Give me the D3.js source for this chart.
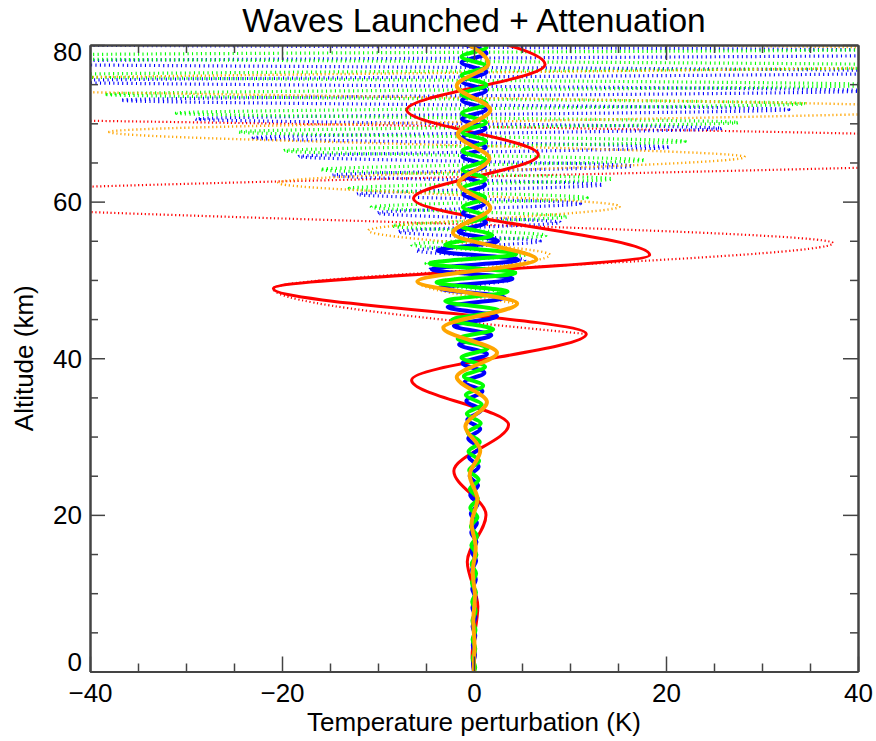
<!DOCTYPE html>
<html>
<head>
<meta charset="utf-8">
<script src="https://cdn.jsdelivr.net/npm/d3@7"></script>
<style>
  body { margin: 0; background: #fff; }
  svg text { font-family: "Liberation Sans", Arial, Helvetica, sans-serif; fill: #000; }
</style>
</head>
<body>
<svg id="chart" width="876" height="741"></svg>
<script>
// ---- Wave profiles: extrema of temperature perturbation (K) versus altitude (km) ----

// Long-period wave (red), attenuated profile
const redKm = [0.0, 1.9, 8.3, 14.0, 20.0, 25.6, 31.5, 37.2, 43.1, 48.9, 53.2, 60.4, 66.0, 71.7, 77.5, 83.0];
const redK  = [0.0, -0.2, 0.4, -0.7, 1.25, -2.1, 3.6, -6.5, 11.7, -20.9, 18.3, -6.3, 6.7, -7.0, 7.4, -7.5];
// Red wave without attenuation
const redFreeKm = [43.1, 48.9, 54.7, 60.4, 66.6, 71.6];
const redFreeK  = [11.7, -20.9, 37.4, -62, 85, -115];

// Medium wave (orange), attenuated profile
const orangeKm = [0.0, 0.3, 3.4, 6.5, 9.6, 12.7, 15.8, 18.9, 22.0, 25.1, 28.2, 31.3, 34.4, 37.6, 40.7, 43.9,
                  47.0, 49.8, 52.6, 56.0, 59.2, 62.3, 65.5, 68.6, 71.7, 74.8, 77.6, 80.7];
const orangeK  = [0.0, -0.02, 0.05, -0.07, 0.1, -0.13, 0.18, -0.25, 0.35, -0.45, 0.65, -0.9, 1.35, -1.8, 2.4, -3.2,
                  4.5, -5.9, 6.5, -2.2, 1.7, -1.6, 1.6, -1.7, 1.7, -1.8, 1.5, -1.5];
// Orange wave without attenuation
const orangeFreeKm = [47.0, 49.8, 53.2, 56.3, 59.4, 62.4, 65.7, 68.9, 71.8, 75.0, 78.3, 81.5];
const orangeFreeK  = [4.5, -5.9, 7.9, -11, 15.2, -20.4, 28.2, -38, 52, -70, 95, -125];

// Short wave (green), attenuated profile
const greenKm = [0.0, 0.5, 1.7, 2.9, 4.1, 5.3, 6.5, 7.7, 8.9, 10.1, 11.3, 12.5, 13.7, 14.9, 16.1, 17.3, 18.5, 19.7,
                 20.9, 22.1, 23.3, 24.5, 25.7, 26.9, 28.1, 29.3, 30.5, 31.7, 32.9, 34.1, 35.3, 36.5, 37.7, 38.9,
                 40.1, 41.3, 42.5, 43.7, 44.9, 46.1, 47.3, 48.5, 49.7, 50.9, 52.1, 53.3, 54.5, 55.7, 56.9, 58.1,
                 59.3, 60.5, 61.7, 62.9, 64.1, 65.3, 66.5, 67.7, 68.9, 70.1, 71.3, 72.5, 73.7, 74.9, 76.1, 77.3,
                 78.5, 79.7, 80.9];
const greenK  = [0.0, 0.12, -0.12, 0.13, -0.14, 0.15, -0.16, 0.17, -0.18, 0.2, -0.21, 0.22, -0.24, 0.25, -0.27, 0.3, -0.32, 0.35,
                 -0.38, 0.4, -0.43, 0.47, -0.5, 0.53, -0.57, 0.6, -0.65, 0.7, -0.75, 0.8, -0.85, 0.95, -1.05, 1.15,
                 -1.3, 1.45, -1.7, 2.0, -2.3, 2.6, -3.0, 3.5, -3.9, 4.3, -4.6, 4.4, -3.0, 1.9, -1.35, 1.2,
                 -1.15, 1.15, -1.15, 1.2, -1.2, 1.2, -1.2, 1.25, -1.25, 1.25, -1.25, 1.3, -1.3, 1.3, -1.3, 1.3,
                 -1.3, 1.3, -1.3];
// Green wave without attenuation
const greenFreeKm = [48.5, 49.7, 50.9, 52.1, 53.3, 54.5, 55.7, 56.9, 58.1, 59.3, 60.5, 61.7, 62.9, 64.1, 65.3,
                     66.5, 67.7, 68.9, 70.1, 71.3, 72.5, 73.7, 74.9, 76.1, 77.3, 78.5, 79.7, 80.9];
const greenFreeK  = [3.5, -3.9, 4.4, -5.0, 5.7, -6.5, 7.5, -8.5, 9.7, -10.7, 11.8, -13, 14.4, -16, 17.8,
                     -19.8, 22, -24.5, 27.5, -31, 34.5, -38.5, 43, -48, 54, -60, 67, -75];

// Short wave (blue), attenuated profile
const blueKm = [0.0, 0.95, 2.15, 3.35, 4.55, 5.75, 6.95, 8.15, 9.35, 10.55, 11.75, 12.95, 14.15, 15.35, 16.55, 17.75,
                18.95, 20.15, 21.35, 22.55, 23.75, 24.95, 26.15, 27.35, 28.55, 29.75, 30.95, 32.15, 33.35, 34.55,
                35.75, 36.95, 38.15, 39.35, 40.55, 41.75, 42.95, 44.15, 45.35, 46.55, 47.75, 48.95, 50.15, 51.35,
                52.55, 53.75, 54.95, 56.15, 57.35, 58.55, 59.75, 60.95, 62.15, 63.35, 64.55, 65.75, 66.95, 68.15,
                69.35, 70.55, 71.75, 72.95, 74.15, 75.35, 76.55, 77.75, 78.95, 80.15];
const blueK  = [0.0, -0.1, 0.11, -0.12, 0.13, -0.14, 0.15, -0.16, 0.17, -0.18, 0.19, -0.2, 0.22, -0.24, 0.26, -0.28,
                0.3, -0.33, 0.36, -0.39, 0.42, -0.45, 0.48, -0.52, 0.56, -0.6, 0.65, -0.7, 0.75, -0.8,
                0.88, -0.97, 1.08, -1.2, 1.35, -1.55, 1.8, -2.1, 2.4, -2.75, 3.2, -3.6, 4.0, -4.4,
                4.6, -3.8, 2.5, -1.6, 1.25, -1.15, 1.1, -1.1, 1.15, -1.15, 1.15, -1.2, 1.2, -1.2,
                1.2, -1.25, 1.25, -1.25, 1.25, -1.25, 1.3, -1.3, 1.3, -1.3];
// Blue wave without attenuation
const blueFreeKm = [48.95, 50.15, 51.35, 52.55, 53.75, 54.95, 56.15, 57.35, 58.55, 59.75, 60.95, 62.15, 63.35,
                    64.55, 65.75, 66.95, 68.15, 69.35, 70.55, 71.75, 72.95, 74.15, 75.35, 76.55, 77.75, 78.95, 80.15];
const blueFreeK  = [-3.6, 4.0, -4.6, 5.3, -6.0, 6.9, -7.9, 9.0, -10.1, 11.1, -12.2, 13.4, -14.8,
                    16.5, -18.3, 20.4, -23, 25.8, -29, 32.8, -36.8, 41, -46, 51.5, -57.5, 64, -71];

// Axis ticks
const xMajorTicks = [-40, -20, 0, 20, 40];
const xMinorTicks = [-35, -30, -25, -15, -10, -5, 5, 10, 15, 25, 30, 35];
const yMajorTicks = [0, 20, 40, 60, 80];
const yMinorTicks = [5, 10, 15, 25, 30, 35, 45, 50, 55, 65, 70, 75];

const titleText = "Waves Launched + Attenuation";
const xTitle = "Temperature perturbation (K)";
const yTitle = "Altitude (km)";

// ---- Layout ----
const plotL = 90, plotR = 858, plotT = 45, plotB = 671.5;
const svg = d3.select("#chart");

const x = d3.scaleLinear().domain([-40, 40]).range([plotL, plotR]);
const y = d3.scaleLinear().domain([0, 80]).range([plotB, plotT]);

svg.append("defs").append("clipPath").attr("id", "plotClip")
  .append("rect").attr("x", plotL).attr("y", plotT)
  .attr("width", plotR - plotL).attr("height", plotB - plotT);

const pairs = (km, k) => km.map((z, i) => [z, k[i]]);
const profile = d3.line()
  .x(d => x(d[1]))
  .y(d => y(d[0]))
  .curve(d3.curveMonotoneY);

const plot = svg.append("g").attr("clip-path", "url(#plotClip)");

// Unattenuated waves: dotted
const dotted = [
  { km: redFreeKm,    k: redFreeK,    color: "#ff0000", w: 2.2, dash: "1.2 2.6" },
  { km: blueFreeKm,   k: blueFreeK,   color: "#0000ff", w: 3.2, dash: "1.1 3.4" },
  { km: greenFreeKm,  k: greenFreeK,  color: "#00ff00", w: 3.2, dash: "1.1 3.4" },
  { km: orangeFreeKm, k: orangeFreeK, color: "#ffa500", w: 2.4, dash: "1.2 2.8" }
];
dotted.forEach(s => {
  plot.append("path")
    .datum(pairs(s.km, s.k))
    .attr("d", profile)
    .attr("fill", "none")
    .attr("stroke", s.color)
    .attr("stroke-width", s.w)
    .attr("stroke-dasharray", s.dash);
});

// Attenuated waves: solid
const solid = [
  { km: redKm,    k: redK,    color: "#ff0000", w: 3 },
  { km: blueKm,   k: blueK,   color: "#0000ff", w: 4 },
  { km: greenKm,  k: greenK,  color: "#00ff00", w: 4 },
  { km: orangeKm, k: orangeK, color: "#ffa500", w: 4 }
];
solid.forEach(s => {
  plot.append("path")
    .datum(pairs(s.km, s.k))
    .attr("d", profile)
    .attr("fill", "none")
    .attr("stroke", s.color)
    .attr("stroke-width", s.w)
    .attr("stroke-linejoin", "round");
});

// ---- Axes (ticks point inward on all four sides) ----
const axisColor = "#444";
function styleAxis(g) {
  g.select(".domain").attr("stroke", axisColor).attr("stroke-width", 2);
  g.selectAll(".tick line").attr("stroke", axisColor).attr("stroke-width", 1.5);
  g.selectAll(".tick text").attr("font-size", 26)
    .attr("font-family", "'Liberation Sans', Arial, sans-serif").attr("fill", "#000");
  g.attr("font-family", null).attr("font-size", null);
}

const fmt = d3.format("d");
// bottom
svg.append("g").attr("transform", `translate(0,${plotB})`)
  .call(d3.axisBottom(x).tickValues(xMinorTicks).tickSize(-8).tickSizeOuter(0).tickFormat(""))
  .call(styleAxis);
svg.append("g").attr("transform", `translate(0,${plotB})`)
  .call(d3.axisBottom(x).tickValues(xMajorTicks).tickSize(-15).tickSizeOuter(0).tickPadding(12).tickFormat(fmt))
  .call(styleAxis);
// top
svg.append("g").attr("transform", `translate(0,${plotT})`)
  .call(d3.axisTop(x).tickValues(xMinorTicks).tickSize(-8).tickSizeOuter(0).tickFormat(""))
  .call(styleAxis);
svg.append("g").attr("transform", `translate(0,${plotT})`)
  .call(d3.axisTop(x).tickValues(xMajorTicks).tickSize(-15).tickSizeOuter(0).tickFormat(""))
  .call(styleAxis);
// left (end labels are kept inside the frame height)
svg.append("g").attr("transform", `translate(${plotL},0)`)
  .call(d3.axisLeft(y).tickValues(yMinorTicks).tickSize(-8).tickSizeOuter(0).tickFormat(""))
  .call(styleAxis);
svg.append("g").attr("transform", `translate(${plotL},0)`)
  .call(d3.axisLeft(y).tickValues(yMajorTicks).tickSize(-15).tickSizeOuter(0).tickPadding(8).tickFormat(fmt))
  .call(styleAxis)
  .call(g => g.selectAll(".tick text")
    .attr("dy", d => d === 0 ? "-0.05em" : d === 80 ? "0.58em" : "0.34em"));
// right
svg.append("g").attr("transform", `translate(${plotR},0)`)
  .call(d3.axisRight(y).tickValues(yMinorTicks).tickSize(-8).tickSizeOuter(0).tickFormat(""))
  .call(styleAxis);
svg.append("g").attr("transform", `translate(${plotR},0)`)
  .call(d3.axisRight(y).tickValues(yMajorTicks).tickSize(-15).tickSizeOuter(0).tickFormat(""))
  .call(styleAxis);

// ---- Titles ----
svg.append("text")
  .attr("x", (plotL + plotR) / 2).attr("y", 32)
  .attr("text-anchor", "middle").attr("font-size", 33.5)
  .text(titleText);

svg.append("text")
  .attr("x", (plotL + plotR) / 2).attr("y", 731)
  .attr("text-anchor", "middle").attr("font-size", 26)
  .text(xTitle);

svg.append("text")
  .attr("transform", `translate(33,${(plotT + plotB) / 2}) rotate(-90)`)
  .attr("text-anchor", "middle").attr("font-size", 26)
  .text(yTitle);
</script>
</body>
</html>
